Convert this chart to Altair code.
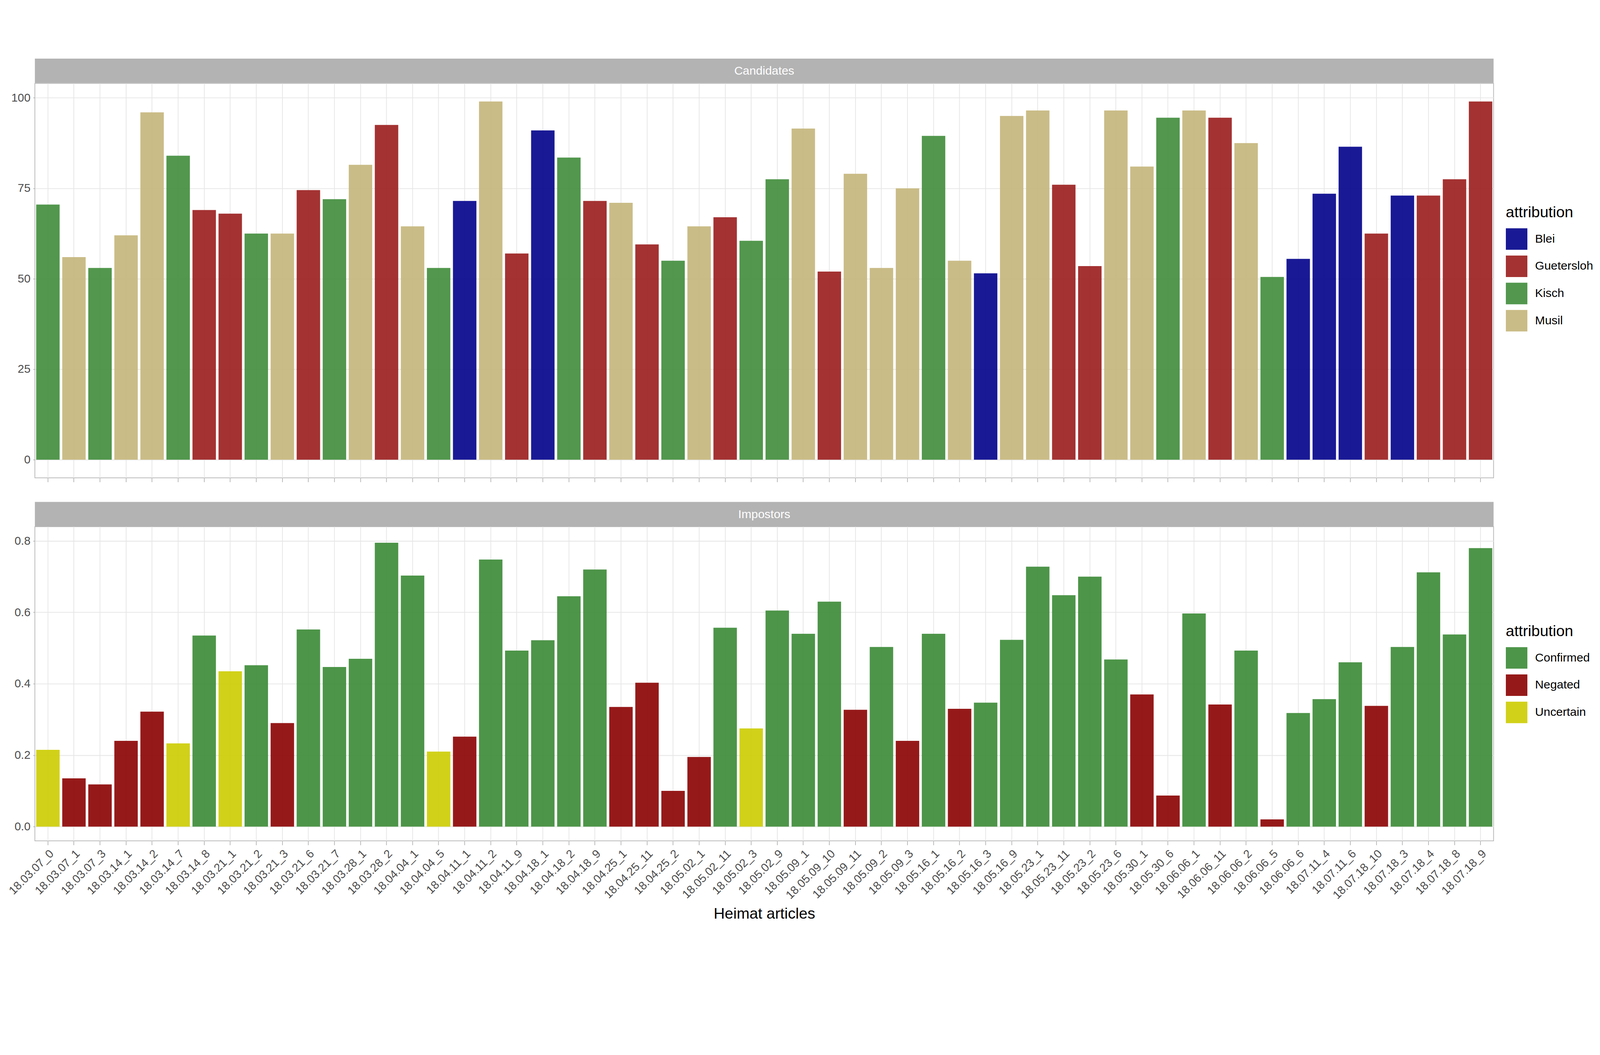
import altair as alt
import pandas as pd

articles = ["18.03.07_0","18.03.07_1","18.03.07_3","18.03.14_1","18.03.14_2","18.03.14_7","18.03.14_8","18.03.21_1","18.03.21_2","18.03.21_3","18.03.21_6","18.03.21_7","18.03.28_1","18.03.28_2","18.04.04_1","18.04.04_5","18.04.11_1","18.04.11_2","18.04.11_9","18.04.18_1","18.04.18_2","18.04.18_9","18.04.25_1","18.04.25_11","18.04.25_2","18.05.02_1","18.05.02_11","18.05.02_3","18.05.02_9","18.05.09_1","18.05.09_10","18.05.09_11","18.05.09_2","18.05.09_3","18.05.16_1","18.05.16_2","18.05.16_3","18.05.16_9","18.05.23_1","18.05.23_11","18.05.23_2","18.05.23_6","18.05.30_1","18.05.30_6","18.06.06_1","18.06.06_11","18.06.06_2","18.06.06_5","18.06.06_6","18.07.11_4","18.07.11_6","18.07.18_10","18.07.18_3","18.07.18_4","18.07.18_8","18.07.18_9"]

cand_values = [70.5,56,53,62,96,84,69,68,62.5,62.5,74.5,72,81.5,92.5,64.5,53,71.5,99,57,91,83.5,71.5,71,59.5,55,64.5,67,60.5,77.5,91.5,52,79,53,75,89.5,55,51.5,95,96.5,76,53.5,96.5,81,94.5,96.5,94.5,87.5,50.5,55.5,73.5,86.5,62.5,73,73,77.5,99]
cand_attr = ["Kisch","Musil","Kisch","Musil","Musil","Kisch","Guetersloh","Guetersloh","Kisch","Musil","Guetersloh","Kisch","Musil","Guetersloh","Musil","Kisch","Blei","Musil","Guetersloh","Blei","Kisch","Guetersloh","Musil","Guetersloh","Kisch","Musil","Guetersloh","Kisch","Kisch","Musil","Guetersloh","Musil","Musil","Musil","Kisch","Musil","Blei","Musil","Musil","Guetersloh","Guetersloh","Musil","Musil","Kisch","Musil","Guetersloh","Musil","Kisch","Blei","Blei","Blei","Guetersloh","Blei","Guetersloh","Guetersloh","Guetersloh"]

imp_values = [0.215,0.135,0.118,0.24,0.322,0.233,0.535,0.435,0.452,0.29,0.552,0.447,0.47,0.795,0.703,0.21,0.252,0.748,0.493,0.522,0.645,0.72,0.335,0.403,0.1,0.195,0.557,0.275,0.605,0.54,0.63,0.327,0.503,0.24,0.54,0.33,0.347,0.523,0.728,0.648,0.7,0.468,0.37,0.087,0.597,0.342,0.493,0.02,0.318,0.357,0.46,0.338,0.503,0.712,0.538,0.78]
imp_attr = ["Uncertain","Negated","Negated","Negated","Negated","Uncertain","Confirmed","Uncertain","Confirmed","Negated","Confirmed","Confirmed","Confirmed","Confirmed","Confirmed","Uncertain","Negated","Confirmed","Confirmed","Confirmed","Confirmed","Confirmed","Negated","Negated","Negated","Negated","Confirmed","Uncertain","Confirmed","Confirmed","Confirmed","Negated","Confirmed","Negated","Confirmed","Negated","Confirmed","Confirmed","Confirmed","Confirmed","Confirmed","Confirmed","Negated","Negated","Confirmed","Negated","Confirmed","Negated","Confirmed","Confirmed","Confirmed","Negated","Confirmed","Confirmed","Confirmed","Confirmed"]

W = 4180
FONT = "Liberation Sans"

df_c = pd.DataFrame({"article": articles, "value": cand_values, "attribution": cand_attr})
df_i = pd.DataFrame({"article": articles, "value": imp_values, "attribution": imp_attr})

xscale = alt.Scale(paddingInner=0.1, paddingOuter=0.05)

def strip(label):
    d = pd.DataFrame({"t": [label]})
    base = alt.Chart(d)
    r = base.mark_rect(color="#b3b3b3").encode(x=alt.value(0), x2=alt.value(W), y=alt.value(0), y2=alt.value(70))
    t = base.mark_text(color="white", fontSize=34, font=FONT).encode(text="t:N", x=alt.value(W / 2), y=alt.value(36))
    return (r + t).properties(width=W, height=70, view=alt.ViewConfig(stroke=None))

def legend(y):
    return alt.Legend(title="attribution", orient="none", legendX=W + 35, legendY=y,
                      symbolType="square", symbolSize=3800, symbolStrokeWidth=0,
                      labelFontSize=34, titleFontSize=44, titleFontWeight="normal",
                      labelLimit=0, titleLimit=0,
                      rowPadding=16, titlePadding=22, labelOffset=22)

top = alt.Chart(df_c).mark_bar(opacity=0.9).encode(
    x=alt.X("article:N", sort=articles, scale=xscale, title=None,
            axis=alt.Axis(labels=False, ticks=True, tickSize=12, grid=True)),
    y=alt.Y("value:Q", scale=alt.Scale(domain=[-5, 104], nice=False), title=None,
            axis=alt.Axis(values=[0, 25, 50, 75, 100])),
    color=alt.Color("attribution:N",
                    scale=alt.Scale(domain=["Blei", "Guetersloh", "Kisch", "Musil"],
                                    range=["#00008B", "#9a1c1c", "#3f8c3a", "#c4b57a"]),
                    legend=legend(420)),
).properties(width=W, height=1130)

bottom = alt.Chart(df_i).mark_bar(opacity=0.9).encode(
    x=alt.X("article:N", sort=articles, scale=xscale, title="Heimat articles",
            axis=alt.Axis(labelAngle=315, labelAlign="right", labelBaseline="top", labelLimit=0,
                          tickSize=12, grid=True)),
    y=alt.Y("value:Q", scale=alt.Scale(domain=[-0.04, 0.84], nice=False), title=None,
            axis=alt.Axis(values=[0, 0.2, 0.4, 0.6, 0.8], format=".1f")),
    color=alt.Color("attribution:N",
                    scale=alt.Scale(domain=["Confirmed", "Negated", "Uncertain"],
                                    range=["#3a8a35", "#8B0000", "#CCCC00"]),
                    legend=legend(350)),
).properties(width=W, height=900)

g1 = alt.vconcat(strip("Candidates"), top, spacing=0)
g2 = alt.vconcat(strip("Impostors"), bottom, spacing=0)

chart = alt.vconcat(g1, g2, spacing=55).resolve_scale(color="independent", x="independent").resolve_legend(color="independent").configure(
    font=FONT
).configure_view(stroke="#b3b3b3", strokeWidth=2).configure_axis(
    labelFontSize=33, labelColor="#4d4d4d", tickColor="#b3b3b3", tickWidth=2,
    gridColor="#e5e5e5", gridWidth=2, domain=False, titleFontSize=44,
    titleFontWeight="normal", titleColor="black", labelPadding=8, titlePadding=14
).configure_concat(spacing=0).properties(background="white", padding={"left": 10, "top": 10, "right": 10, "bottom": 10})

chart.save("out.html", embed_options={"renderer": "svg", "actions": False})
